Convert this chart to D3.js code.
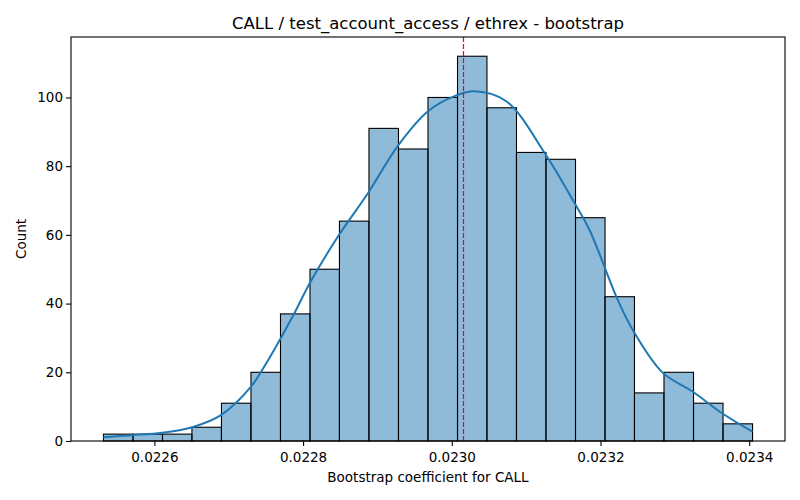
<!DOCTYPE html>
<html>
<head>
<meta charset="utf-8">
<script src="https://cdn.jsdelivr.net/npm/d3@7"></script>
<style>
  body { margin: 0; background: #fff; }
  text { font-family: "DejaVu Sans", sans-serif; fill: #000; }
</style>
</head>
<body>
<div id="chart"></div>
<script>
// histogram bin edges (23 edges -> 22 bins)
var binEdges = [0.0225315, 0.0225712, 0.0226109, 0.0226505, 0.0226902, 0.0227299,
                0.0227696, 0.0228093, 0.0228489, 0.0228886, 0.0229283, 0.0229680,
                0.0230077, 0.0230473, 0.0230870, 0.0231267, 0.0231664, 0.0232061,
                0.0232457, 0.0232854, 0.0233251, 0.0233648, 0.0234045];
var binCounts = [2, 2, 2, 4, 11, 20, 37, 50, 64, 91, 85, 100, 112, 97, 84, 82, 65, 42, 14, 20, 11, 5];

// kde curve
var kdeX = [0.0225315, 0.0225714, 0.0226103, 0.0226510, 0.0226900, 0.0227299, 0.0227531,
            0.0227688, 0.0227890, 0.0228091, 0.0228471, 0.0228874, 0.0229277, 0.0229680,
            0.0230061, 0.0230307, 0.0230733, 0.0231247, 0.0231650, 0.0231851, 0.0232231,
            0.0232446, 0.0232836, 0.0233239, 0.0233641, 0.0234044];
var kdeY = [1.1, 1.7, 2.4, 4.0, 7.6, 15.8, 23.6, 29.5, 37.5, 46, 59.6, 72.2, 86, 96,
            100.6, 101.8, 98.9, 83.9, 69.3, 61.5, 41.1, 31.9, 19.9, 14.4, 8.0, 2.7];

var meanValue = 0.0230156;
var xTicks = [0.0226, 0.0228, 0.0230, 0.0232, 0.0234];
var yTicks = [0, 20, 40, 60, 80, 100];

var width = 800, height = 500;
var margin = {left: 71, right: 15, top: 37, bottom: 59};

var svg = d3.select("#chart").append("svg")
            .attr("width", width)
            .attr("height", height);

var lo = binEdges[0], hi = binEdges[binEdges.length - 1];
var pad = (hi - lo) * 0.05;
var x = d3.scaleLinear()
          .domain([lo - pad, hi + pad])
          .range([margin.left, width - margin.right]);
var y = d3.scaleLinear()
          .domain([0, d3.max(binCounts) * 1.05])
          .range([height - margin.bottom, margin.top]);

// bars
svg.append("g").selectAll("rect")
   .data(binCounts)
   .enter().append("rect")
   .attr("x", function(d, i){ return x(binEdges[i]); })
   .attr("y", function(d){ return y(d); })
   .attr("width", function(d, i){ return x(binEdges[i + 1]) - x(binEdges[i]); })
   .attr("height", function(d){ return y(0) - y(d); })
   .attr("fill", "#1f77b4")
   .attr("fill-opacity", 0.5)
   .attr("stroke", "#000")
   .attr("stroke-width", 1.1);

// kde
var kdePts = kdeX.map(function(v, i){ return [v, kdeY[i]]; });
var line = d3.line()
             .x(function(d){ return x(d[0]); })
             .y(function(d){ return y(d[1]); })
             .curve(d3.curveCatmullRom);
svg.append("path")
   .attr("d", line(kdePts))
   .attr("fill", "none")
   .attr("stroke", "#1f77b4")
   .attr("stroke-width", 2);

// mean line
var mx = Math.round(x(meanValue)) + 0.5;
svg.append("line")
   .attr("x1", mx).attr("x2", mx)
   .attr("y1", margin.top).attr("y2", height - margin.bottom)
   .attr("stroke", "#ff0000")
   .attr("stroke-width", 1.2)
   .attr("stroke-dasharray", "5,2");

// axes
var xAxis = svg.append("g")
   .attr("transform", "translate(0," + (height - margin.bottom) + ")")
   .call(d3.axisBottom(x).tickValues(xTicks).tickFormat(d3.format(".4f")).tickSizeInner(5).tickSizeOuter(0));
var yAxis = svg.append("g")
   .attr("transform", "translate(" + margin.left + ",0)")
   .call(d3.axisLeft(y).tickValues(yTicks).tickSizeInner(5).tickSizeOuter(0));

[xAxis, yAxis].forEach(function(a){
    a.select(".domain").remove();
    a.selectAll("text").attr("font-size", 13.5).attr("font-family", "DejaVu Sans");
    a.selectAll("line").attr("stroke-width", 1.1);
});
xAxis.selectAll("text").attr("dy", "0.95em");

// frame
svg.append("rect")
   .attr("x", margin.left).attr("y", margin.top)
   .attr("width", width - margin.left - margin.right)
   .attr("height", height - margin.top - margin.bottom)
   .attr("fill", "none")
   .attr("stroke", "#000")
   .attr("stroke-width", 1.1);

// labels
svg.append("text")
   .text("CALL / test_account_access / ethrex - bootstrap")
   .attr("x", (margin.left + width - margin.right) / 2)
   .attr("y", 29)
   .attr("text-anchor", "middle")
   .attr("font-size", 16.5);

svg.append("text")
   .text("Bootstrap coefficient for CALL")
   .attr("x", (margin.left + width - margin.right) / 2)
   .attr("y", 482)
   .attr("text-anchor", "middle")
   .attr("font-size", 13.5);

svg.append("text")
   .text("Count")
   .attr("transform", "translate(26," + ((margin.top + height - margin.bottom) / 2) + ") rotate(-90)")
   .attr("text-anchor", "middle")
   .attr("font-size", 13.5);
</script>
</body>
</html>
